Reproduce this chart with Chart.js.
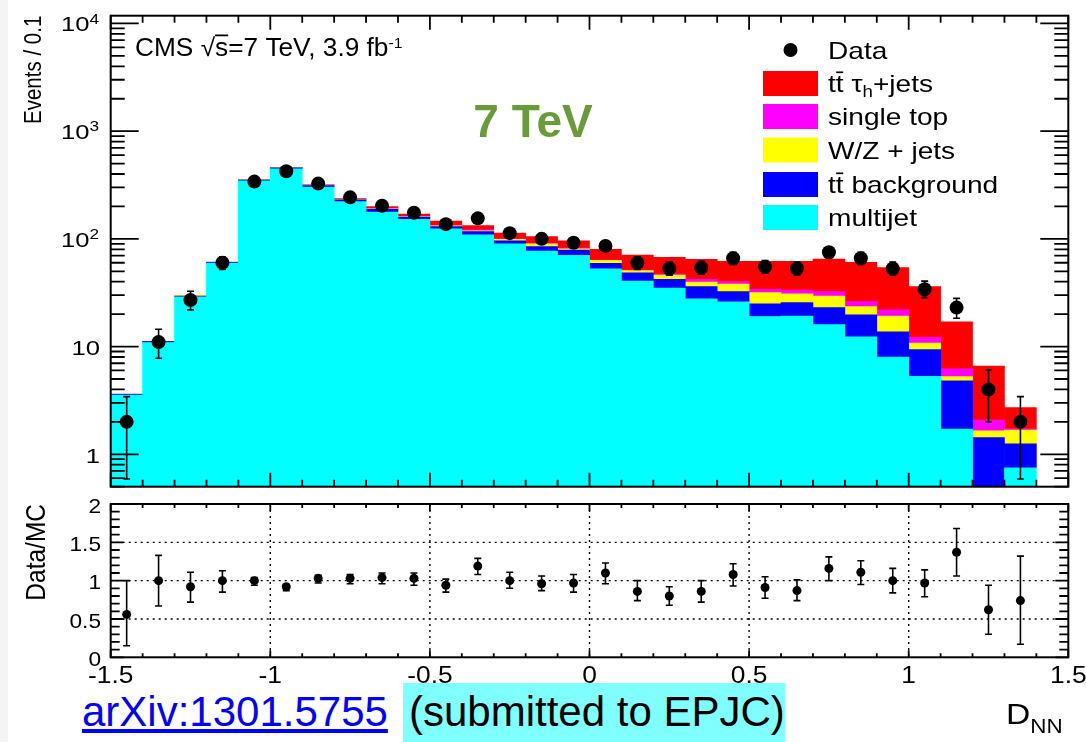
<!DOCTYPE html>
<html lang="en">
<head>
<meta charset="UTF-8">
<title>D_NN distribution, 7 TeV</title>
<script src="https://cdn.jsdelivr.net/npm/chart.js@4.4.1/dist/chart.umd.min.js"></script>
<style>
    body { margin: 0; background: #fff; font-family: "Liberation Sans", Arial, sans-serif; }
    #wrap { position: relative; width: 1086px; height: 742px; overflow: hidden; }
    #strip { position: absolute; left: 0; top: 0; width: 8px; height: 742px; background: #f4f4f4; }
    canvas { position: absolute; left: 0; }
    #mainChart { top: 0; }
    #ratioChart { top: 490px; }
    .ref { position: absolute; top: 683px; height: 59px; line-height: 58px; font-size: 42px; white-space: nowrap; }
    #arxiv { left: 82px; color: #0000ff; text-decoration: underline; }
    #submitted { left: 403px; width: 382px; padding-left: 6px; box-sizing: border-box; background: #80ffff; color: #000; }
</style>
</head>
<body>
<div id="wrap">
    <div id="strip"></div>
    <a id="arxiv" class="ref" href="#">arXiv:1301.5755</a>
    <div id="submitted" class="ref">(submitted to EPJC)</div>
    <canvas id="mainChart" width="1086" height="500"></canvas>
    <canvas id="ratioChart" width="1086" height="252"></canvas>
</div>

<script>
// bins of width 0.1 from -1.5 to 1.4
const binCenters = [-1.45, -1.35, -1.25, -1.15, -1.05, -0.95, -0.85, -0.75, -0.65, -0.55,
    -0.45, -0.35, -0.25, -0.15, -0.05, 0.05, 0.15, 0.25, 0.35, 0.45,
    0.55, 0.65, 0.75, 0.85, 0.95, 1.05, 1.15, 1.25, 1.35];

// stacked MC, bottom to top
const multijet     = [3.55, 10.9, 28.8, 59.5, 345, 448, 303, 222, 177, 152, 124, 109, 89.7, 77, 70.4, 52.6, 40.6, 35, 27.7, 26, 19, 19.2, 16, 12.3, 8.0, 5.3, 1.71, 0, 0.75];
const ttBackground = [0.05, 0.2, 0.3, 0.9, 7, 9, 9, 8, 11, 7, 6, 8, 6.3, 7.7, 8.2, 6.6, 7.9, 7.2, 8.3, 6.4, 5.9, 6.4, 7, 7.4, 5.7, 4.1, 3.1, 1.43, 0.5];
const wzJets       = [0, 0, 0.5, 0.2, 1, 1, 2, 2, 2, 2, 2, 2, 3, 5.3, 2.4, 4, 2.2, 4, 3.8, 5.7, 6.8, 5.3, 6.5, 3.8, 5.5, 1.4, 0.45, 0.22, 0.43];
const singleTop    = [0, 0, 0, 0, 0, 1, 1, 1, 1, 1, 1, 2, 1, 1, 1, 0.5, 0.7, 1, 2.4, 2, 2.3, 2.6, 2.9, 2.6, 2.7, 1.4, 0.95, 0.43, 0.04];
const ttTauJets    = [0.03, 0.05, 0.1, 0.2, 2, 2, 3, 4, 8, 8, 13, 12, 13, 14, 14, 16.3, 19.4, 20.3, 22.4, 21.9, 28, 28.5, 32.6, 34.5, 32.1, 23.8, 10.8, 4.5, 1.0];

// data with error bar ends
const dataCounts = [2, 11, 27, 60, 340, 424, 326, 243, 203, 175, 137, 155, 113, 100, 92, 86, 60, 53, 54, 66, 55, 53, 75, 66, 53, 34, 23, 4, 2];
const dataLow    = [0.59, 7.8, 21.9, 52, 322, 404, 308, 228, 189, 162, 126, 143, 103, 90, 83, 77, 52, 46, 47, 58, 48, 46, 66, 58, 46, 28.5, 18.3, 2.0, 0.59];
const dataHigh   = [3.43, 14.5, 32.6, 68, 358, 445, 344, 259, 217, 189, 149, 168, 124, 110, 102, 96, 68, 61, 62, 75, 63, 61, 84, 75, 61, 40.5, 28, 6.07, 3.43];

// Data/MC ratio panel
const ratio     = [0.56, 1.0, 0.92, 1.0, 1.0, 0.92, 1.03, 1.03, 1.04, 1.03, 0.94, 1.19, 1.0, 0.96, 0.97, 1.10, 0.86, 0.80, 0.86, 1.08, 0.91, 0.87, 1.16, 1.11, 1.0, 0.97, 1.37, 0.62, 0.74];
const ratioLow  = [0.15, 0.67, 0.72, 0.85, 0.94, 0.87, 0.97, 0.96, 0.96, 0.94, 0.85, 1.08, 0.90, 0.87, 0.85, 0.96, 0.74, 0.68, 0.72, 0.93, 0.77, 0.74, 1.0, 0.95, 0.84, 0.79, 1.06, 0.30, 0.17];
const ratioHigh = [1.0, 1.33, 1.11, 1.13, 1.04, 0.95, 1.07, 1.08, 1.10, 1.10, 1.02, 1.29, 1.11, 1.06, 1.08, 1.23, 1.0, 0.92, 1.0, 1.22, 1.05, 1.01, 1.31, 1.26, 1.16, 1.14, 1.68, 0.94, 1.32];

// tick labels
const logTicks = [1, 10, 100, 1000, 10000];
const xTicks = [-1.5, -1, -0.5, 0, 0.5, 1, 1.5];
const ratioTicks = [0, 0.5, 1, 1.5, 2];

const FONT = '"Liberation Sans", Arial, Helvetica, sans-serif';

// text with optional stretch (the original plot is a bit wide)
function txt(ctx, s, x, y, size, o) {
    o = o || {};
    ctx.save();
    ctx.font = (o.bold ? 'bold ' : '') + size + 'px ' + FONT;
    ctx.fillStyle = o.color || '#000';
    ctx.textBaseline = o.baseline || 'middle';
    ctx.textAlign = o.align || 'left';
    ctx.translate(x, y);
    if (o.rot) ctx.rotate(o.rot);
    ctx.scale(o.sx || 1, o.sy || 1);
    ctx.fillText(s, 0, 0);
    ctx.restore();
}

// pieces of text on one baseline: sub/superscripts and overbars
function rich(ctx, pieces, x, y, sx) {
    ctx.save();
    ctx.translate(x, y);
    ctx.scale(sx, 1);
    ctx.textBaseline = 'alphabetic';
    ctx.fillStyle = '#000';
    let cx = 0;
    for (const p of pieces) {
        ctx.font = p.size + 'px ' + FONT;
        const w = ctx.measureText(p.s).width;
        const dy = p.dy || 0;
        ctx.fillText(p.s, cx, dy);
        if (p.bar) {
            ctx.fillRect(cx + w * p.bar[0], dy - p.size * 0.86, w * p.bar[1], Math.max(1.5, p.size * 0.07));
        }
        cx += w;
    }
    ctx.restore();
}

function errorBars(low, high) {
    return {
        id: 'errorBars',
        beforeDatasetDraw(chart, args) {
            if (args.index !== 0) return;
            const { ctx, chartArea, scales } = chart;
            ctx.save();
            ctx.beginPath();
            ctx.rect(chartArea.left, chartArea.top, chartArea.width, chartArea.height);
            ctx.clip();
            ctx.strokeStyle = '#000';
            ctx.lineWidth = 1.6;
            binCenters.forEach((c, i) => {
                const px = scales.x.getPixelForValue(c);
                const y1 = Math.min(scales.y.getPixelForValue(low[i]), chartArea.bottom);
                const y2 = scales.y.getPixelForValue(high[i]);
                ctx.beginPath();
                ctx.moveTo(px, y1); ctx.lineTo(px, y2);
                ctx.moveTo(px - 3.5, y1); ctx.lineTo(px + 3.5, y1);
                ctx.moveTo(px - 3.5, y2); ctx.lineTo(px + 3.5, y2);
                ctx.stroke();
            });
            ctx.restore();
        }
    };
}

function drawFrameTicks(chart, xMajor, xMinor, yList) {
    const { ctx, chartArea: a, scales } = chart;
    ctx.save();
    ctx.strokeStyle = '#000';
    ctx.lineWidth = 1.8;
    ctx.beginPath();
    for (let v = -1.5; v <= 1.5001; v += 0.1) {
        const px = scales.x.getPixelForValue(v);
        const major = Math.abs(v * 2 - Math.round(v * 2)) < 1e-6;
        const l = major ? xMajor : xMinor;
        ctx.moveTo(px, a.bottom); ctx.lineTo(px, a.bottom - l);
        ctx.moveTo(px, a.top); ctx.lineTo(px, a.top + l);
    }
    for (const t of yList) {
        const py = scales.y.getPixelForValue(t.v);
        ctx.moveTo(a.left, py); ctx.lineTo(a.left + t.l, py);
        ctx.moveTo(a.right, py); ctx.lineTo(a.right - t.l, py);
    }
    ctx.stroke();
    ctx.lineWidth = 2;
    ctx.strokeRect(a.left, a.top, a.width, a.height);
    ctx.restore();
}

const mainDecor = {
    id: 'mainDecor',
    afterDraw(chart) {
        const { ctx, scales } = chart;
        const y = scales.y;
        // log ticks: majors at decades, minors 2..9
        const yList = [];
        for (let d = -1; d <= 4; d++) {
            for (let m = 1; m <= 9; m++) {
                const v = m * Math.pow(10, d);
                if (v >= y.min && v <= y.max) yList.push({ v: v, l: m === 1 ? 28 : 14 });
            }
        }
        drawFrameTicks(chart, 14, 7, yList);

        // y tick labels
        for (const v of logTicks) {
            const py = y.getPixelForValue(v);
            if (v <= 10) {
                txt(ctx, String(v), 100, py + 3, 21, { align: 'right', sx: 1.22 });
            } else {
                const e = String(Math.round(Math.log10(v)));
                ctx.font = '15px ' + FONT;
                const we = ctx.measureText(e).width * 1.15;
                txt(ctx, e, 99, py - 4, 15, { align: 'right', sx: 1.15 });
                txt(ctx, '10', 99 - we, py + 2, 21, { align: 'right', sx: 1.22 });
            }
        }
        txt(ctx, 'Events / 0.1', 34, 15.7, 20.5, { align: 'right', rot: -Math.PI / 2, sy: 1.2 });

        // CMS label
        rich(ctx, [
            { s: 'CMS ', size: 25 },
            { s: '\u221A', size: 25 },
            { s: 's', size: 25, bar: [0, 1] },
            { s: '=7 TeV, 3.9 fb', size: 25 },
            { s: '-1', size: 15, dy: -8 }
        ], 135, 56, 1.05);

        txt(ctx, '7 TeV', 533, 124, 46, { bold: true, color: '#6a9b3a', align: 'center' });

        // legend, in reverse stack order
        const ds = chart.data.datasets;
        const rows = [
            { y: 50, marker: true, text: [{ s: 'Data', size: 24 }] },
            { y: 83.5, color: ds[5].backgroundColor, text: [{ s: 't', size: 24 }, { s: 't', size: 24, bar: [0.05, 0.9] }, { s: ' \u03C4', size: 24 }, { s: 'h', size: 16, dy: 5 }, { s: '+jets', size: 24 }] },
            { y: 116.5, color: ds[4].backgroundColor, text: [{ s: 'single top', size: 24 }] },
            { y: 150, color: ds[3].backgroundColor, text: [{ s: 'W/Z + jets', size: 24 }] },
            { y: 184.5, color: ds[2].backgroundColor, text: [{ s: 't', size: 24 }, { s: 't', size: 24, bar: [0.05, 0.9] }, { s: ' background', size: 24 }] },
            { y: 217.5, color: ds[1].backgroundColor, text: [{ s: 'multijet', size: 24 }] }
        ];
        for (const r of rows) {
            if (r.marker) {
                ctx.fillStyle = '#000';
                ctx.beginPath();
                ctx.arc(790.5, r.y, 7, 0, Math.PI * 2);
                ctx.fill();
            } else {
                ctx.fillStyle = r.color;
                ctx.fillRect(763, r.y - 12.5, 55, 25);
            }
            rich(ctx, r.text, 828, r.y + 8.6, 1.17);
        }
    }
};

const ratioGrid = {
    id: 'ratioGrid',
    beforeDatasetsDraw(chart) {
        const { ctx, chartArea: a, scales } = chart;
        ctx.save();
        ctx.strokeStyle = '#000';
        ctx.lineWidth = 1.4;
        ctx.setLineDash([2, 4]);
        ctx.beginPath();
        for (const v of xTicks) {
            if (v <= -1.5 || v >= 1.5) continue;
            const px = scales.x.getPixelForValue(v);
            ctx.moveTo(px, a.top); ctx.lineTo(px, a.bottom);
        }
        for (const v of ratioTicks) {
            if (v <= 0 || v >= 2) continue;
            const py = scales.y.getPixelForValue(v);
            ctx.moveTo(a.left, py); ctx.lineTo(a.right, py);
        }
        ctx.stroke();
        ctx.restore();
    }
};

const ratioDecor = {
    id: 'ratioDecor',
    afterDraw(chart) {
        const { ctx, scales } = chart;
        const yList = [];
        for (let k = 0; k <= 20; k++) yList.push({ v: k / 10, l: k % 5 === 0 ? 13 : 9 });
        drawFrameTicks(chart, 7, 4, yList);

        for (const v of ratioTicks) {
            txt(ctx, String(v), 101, scales.y.getPixelForValue(v) + 3, 21, { align: 'right', sx: 1.08 });
        }
        for (const v of xTicks) {
            txt(ctx, String(v), scales.x.getPixelForValue(v), 186, 24, { align: 'center', sx: 1.1 });
        }
        txt(ctx, 'Data/MC', 37, 14, 24.5, { align: 'right', rot: -Math.PI / 2, sy: 1.15 });

        // axis title D_NN
        rich(ctx, [{ s: 'D', size: 30 }, { s: 'NN', size: 20, dy: 9 }], 1006, 234, 1.12);
    }
};

const pointStyle = { showLine: false, pointBackgroundColor: '#000', pointBorderWidth: 0, pointHoverRadius: 0 };

new Chart(document.getElementById('mainChart'), {
    type: 'bar',
    data: {
        labels: binCenters,
        datasets: [
            Object.assign({ type: 'line', label: 'Data', data: dataCounts, pointRadius: 7 }, pointStyle),
            { label: 'multijet', data: multijet, backgroundColor: '#00ffff' },
            { label: 'tt background', data: ttBackground, backgroundColor: '#0000ff' },
            { label: 'W/Z + jets', data: wzJets, backgroundColor: '#ffff00' },
            { label: 'single top', data: singleTop, backgroundColor: '#ff00ff' },
            { label: 'tt tau_h+jets', data: ttTauJets, backgroundColor: '#ff0000' }
        ]
    },
    options: {
        responsive: false,
        animation: false,
        events: [],
        layout: { padding: { left: 110.7, top: 15.7, right: 17.7, bottom: 13.3 } },
        datasets: { bar: { barPercentage: 1, categoryPercentage: 1, borderWidth: 0 } },
        scales: {
            x: { type: 'linear', min: -1.5, max: 1.5, offset: false, stacked: true, display: false },
            y: { type: 'logarithmic', min: 0.5, max: 11800, stacked: true, display: false }
        },
        plugins: { legend: { display: false }, tooltip: { enabled: false } }
    },
    plugins: [errorBars(dataLow, dataHigh), mainDecor]
});

new Chart(document.getElementById('ratioChart'), {
    type: 'line',
    data: {
        labels: binCenters,
        datasets: [
            Object.assign({ label: 'Data/MC', data: ratio, pointRadius: 4.5 }, pointStyle)
        ]
    },
    options: {
        responsive: false,
        animation: false,
        events: [],
        layout: { padding: { left: 110.7, top: 14, right: 17.7, bottom: 84.7 } },
        scales: {
            x: { type: 'linear', min: -1.5, max: 1.5, display: false },
            y: { min: 0, max: 2, display: false }
        },
        plugins: { legend: { display: false }, tooltip: { enabled: false } }
    },
    plugins: [ratioGrid, errorBars(ratioLow, ratioHigh), ratioDecor]
});
</script>
</body>
</html>
